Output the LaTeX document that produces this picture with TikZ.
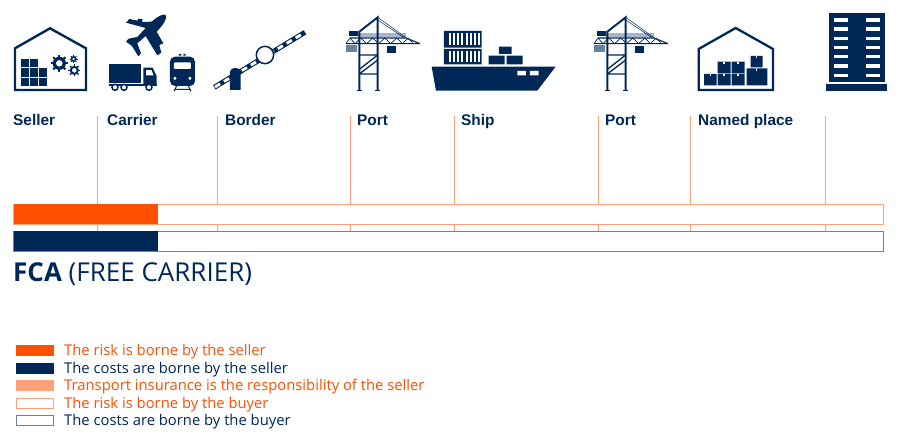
\documentclass[tikz,border=0pt]{standalone}
\usepackage{fontspec}
\setmainfont{Open Sans}
\newfontfamily\placefont{Liberation Sans}
\usepackage{tikz}
\usetikzlibrary{positioning}
\definecolor{RiskOrange}{HTML}{FF5000}
\definecolor{SoftOrange}{HTML}{FFA27A}
\definecolor{CostNavy}{HTML}{002856}
\definecolor{SoftNavy}{HTML}{6B83A3}
\newcommand{\gearicon}[3]{%
  \foreach \a in {0,45,...,315} {\draw[CostNavy,line width=#3] (#1,#2) ++(\a:#3*3.1) -- ++(\a:#3*1.2);}
  \fill[CostNavy,even odd rule] (#1,#2) circle[radius=#3*3.3] (#1,#2) circle[radius=#3*1.7];
}
\newcommand{\craneicon}{%
  \fill[SoftNavy!60] (85,100) rectangle (228,112);
  \draw[icon,line width=1.9pt] (88,272) -- (88,95) -- (143,52) -- (143,272);
  \draw[icon,line width=1.3pt] (88,165) -- (143,165) (88,222) -- (143,222) (88,208) -- (143,165) (88,222) -- (143,180);
  \draw[icon,line width=1.5pt] (80,272) -- (96,272) (135,272) -- (151,272);
  \draw[icon,line width=.5pt] (143,52) -- (228,113) (143,60) -- (222,113);
  \fill[icon] (57,92) rectangle (85,107);
  \draw[icon,line width=1.1pt] (48,131) -- (270,131) (60,114) -- (228,114) -- (270,131);
  \draw[icon,line width=.7pt] (48,131) -- (60,114) -- (75,131) -- (92,114) -- (110,131) -- (128,114) -- (146,131) -- (164,114) -- (182,131) -- (200,114) -- (218,131) -- (234,114) -- (250,131);
  \fill[SoftNavy] (48,134) rectangle (80,155);
  \fill[icon] (172,137) rectangle (197,160);
}
\begin{document}
\begin{tikzpicture}[
x=1pt,y=-1pt,
icon/.style={color=CostNavy},
zoomed/.style={x=0.3333pt,y=-0.3333pt},
tick/.style={draw=SoftOrange,line width=.9pt},
placelabel/.style={anchor=base west,inner sep=0pt,text=CostNavy,font=\placefont\bfseries\fontsize{15.4}{18}\selectfont},
legendtext/.style={anchor=base west,inner sep=0pt,font=\fontsize{14.8}{17}\selectfont},
swatch/.style={line width=.9pt,minimum width=37pt,minimum height=10pt,inner sep=0pt,anchor=west},
bar/.style={line width=.9pt,fill=white}
]
\useasboundingbox (0,0) rectangle (900,442);
\fill[white] (0,0) rectangle (900,442);
% ticks behind the bars
\foreach \tickname/\tickx in {carrier/97.5,border/217,portA/350.5,ship/454,portB/598,named/690.5,end/825.5} {
  \coordinate (\tickname top) at (\tickx,116);
  \coordinate (\tickname bot) at (\tickx,231);
  \draw[tick] (\tickname top) -- (\tickname bot);
}
% bars
\draw[bar,draw=SoftOrange] (13.5,204) rectangle (883.5,224);
\draw[bar,draw=SoftNavy] (13.5,231) rectangle (883.5,251);
\fill[RiskOrange] (13.5,204) rectangle (157.5,224);
\fill[CostNavy] (13.5,231) rectangle (157.5,251);
% place labels
\node[placelabel] (seller) at (13,125) {Seller};
\node[placelabel] (carrier) at (107,125) {Carrier};
\node[placelabel] (border) at (225,125) {Border};
\node[placelabel] (portA) at (357,125) {Port};
\node[placelabel] (ship) at (461,125) {Ship};
\node[placelabel] (portB) at (605,125) {Port};
\node[placelabel] (named) at (698,125) {Named place};
\node[anchor=base west,inner sep=0pt,text=CostNavy,font=\fontsize{26}{30}\selectfont] (fca) at (13,281.7) {\textbf{FCA} (FREE CARRIER)};
% legend
\node[swatch,fill=RiskOrange,draw=RiskOrange] (keyA) at (16,350.5) {};
\node[swatch,fill=CostNavy,draw=CostNavy] (keyB) at (16,368) {};
\node[swatch,fill=SoftOrange,draw=SoftOrange] (keyC) at (16,385.5) {};
\node[swatch,fill=white,draw=SoftOrange] (keyD) at (16,403) {};
\node[swatch,fill=white,draw=SoftNavy] (keyE) at (16,420.5) {};
\node[legendtext,text=RiskOrange] (textA) at (64,355.5) {The risk is borne by the seller};
\node[legendtext,text=CostNavy] (textB) at (64,373) {The costs are borne by the seller};
\node[legendtext,text=RiskOrange] (textC) at (64,390.5) {Transport insurance is the responsibility of the seller};
\node[legendtext,text=RiskOrange] (textD) at (64,408) {The risk is borne by the buyer};
\node[legendtext,text=CostNavy] (textE) at (64,425.5) {The costs are borne by the buyer};
% seller house
\begin{scope}[zoomed]
\draw[icon,line width=2.4pt,miter limit=4] (45,270) -- (45,145) -- (150,85) -- (258,145) -- (258,270) -- cycle;
\foreach \col/\row in {0/0,1/0,0/1,1/1,2/1,0/2,1/2,2/2}
  \fill[icon] (62+27*\col,177+28*\row) rectangle ++(24,25);
\gearicon{178}{190}{2.0pt}
\gearicon{223}{211}{1.4pt}
\gearicon{221}{177}{.9pt}
% plane
\fill[icon] (497,45) .. controls (503,55) and (490,75) .. (470,95) -- (490,130) -- (478,135) -- (484,158) -- (472,166) -- (437,108) -- (412,130) -- (423,160) -- (415,169) -- (396,138) -- (378,125) -- (386,116) -- (412,111) -- (437,84) -- (378,68) -- (388,57) -- (412,62) -- (415,56) -- (428,58) -- (426,66) -- (455,65) .. controls (475,48) and (490,40) .. (497,45) -- cycle;
% truck
\fill[icon] (328,193) rectangle (422,250);
\fill[icon,even odd rule] (430,203) -- (458,203) -- (470,228) -- (470,258) -- (430,258) -- cycle (438,210) -- (455,210) -- (461,226) -- (438,226) -- cycle;
\fill[icon] (328,251) rectangle (470,258);
\foreach \wheelx in {345,372,447} {
  \draw[icon,fill=white,line width=1.5pt] (\wheelx,262) circle[radius=9];
}
% train
\fill[icon,rounded corners=5pt] (510,170) rectangle (585,258);
\fill[white,rounded corners=1pt] (522,187) rectangle (573,207);
\fill[white] (525,235) circle[radius=5] (570,235) circle[radius=5];
\fill[icon] (537,162) rectangle (544,167) (550,162) rectangle (557,167);
\draw[icon,line width=1pt] (530,258) -- (522,274) (565,258) -- (573,274) (525,268) -- (570,268);
% barrier
\draw[icon,line width=5pt] (643,262) -- (915,97);
\draw[white,line width=2.8pt,dash pattern=on 6pt off 4.5pt] (645,261) -- (913,98);
\fill[icon] (690,270) -- (690,215) .. controls (690,200) and (722,200) .. (722,215) -- (722,270) -- cycle;
\draw[icon,fill=white,line width=1.5pt] (795,165) circle[radius=26];
\end{scope}
% port cranes
\begin{scope}[shift={(330,0)},zoomed]
\craneicon
\end{scope}
\begin{scope}[shift={(578,0)},zoomed]
\craneicon
\end{scope}
% ship
\begin{scope}[shift={(330,0)},zoomed]
\fill[icon] (305,200) -- (677,200) -- (622,272) -- (318,272) -- cycle;
\fill[white] (562,213) rectangle (588,226) (600,213) rectangle (626,226);
\fill[icon] (342,93) rectangle (455,143) (342,147) rectangle (455,193);
\foreach \rowy in {100,153} {
  \foreach \sl in {0,1,...,7} {
    \fill[white] (357+\sl*12.5,\rowy) rectangle ++(6,34);
  }
}
\fill[icon] (476,167) rectangle (524,193) (530,167) rectangle (578,193) (507,140) rectangle (545,162);
\end{scope}
% named place house
\begin{scope}[shift={(680,0)},zoomed]
\draw[icon,line width=2.3pt,miter limit=4] (56,270) -- (56,147) -- (167,84) -- (279,147) -- (279,270) -- cycle;
\fill[icon] (72,222) rectangle (110,256) (113,222) rectangle (152,256) (155,222) rectangle (194,256);
\fill[icon] (113,185) rectangle (152,220) (155,185) rectangle (194,220);
\fill[icon] (200,205) rectangle (262,256) (212,168) rectangle (248,202);
\foreach \notchx/\notchy in {91/222,132/222,174/222,132/185,174/185,230/168,230/205}
  \fill[white] (\notchx-2,\notchy) rectangle ++(4,7);
% building
\fill[icon] (448,38) rectangle (614,247);
\fill[icon] (438,253) rectangle (620,273);
\foreach \rowy in {55,82,110,138,165,193,221} {
  \fill[white] (462,\rowy) rectangle ++(42,10);
  \fill[white] (558,\rowy) rectangle ++(42,10);
}
\end{scope}
\end{tikzpicture}
\end{document}
